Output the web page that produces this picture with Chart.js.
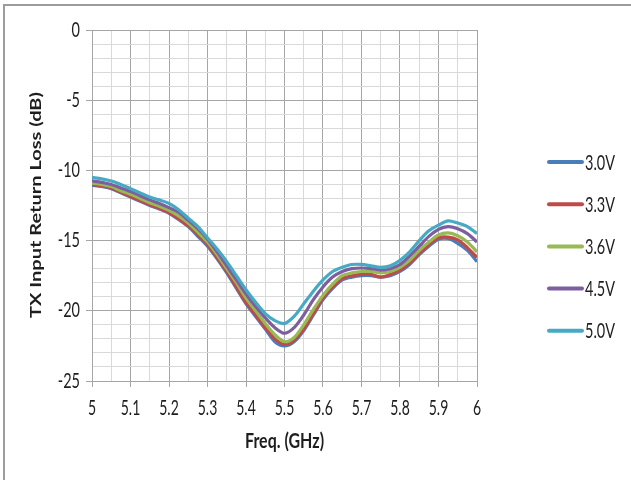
<!DOCTYPE html>
<html>
<head>
<meta charset="utf-8">
<script src="https://cdn.jsdelivr.net/npm/chart.js@4"></script>
<style>
  html, body { margin: 0; padding: 0; background: #fff; }
  canvas { display: block; }
</style>
</head>
<body>
<canvas id="rlChart" width="631" height="480"></canvas>
<script>
// Frequency points (GHz), 25 MHz steps
const freqs = [5.000, 5.025, 5.050, 5.075, 5.100, 5.125, 5.150, 5.175, 5.200, 5.225,
               5.250, 5.275, 5.300, 5.325, 5.350, 5.375, 5.400, 5.425, 5.450, 5.475,
               5.500, 5.525, 5.550, 5.575, 5.600, 5.625, 5.650, 5.675, 5.700, 5.725,
               5.750, 5.775, 5.800, 5.825, 5.850, 5.875, 5.900, 5.925, 5.950, 5.975, 6.000];

// Return loss (dB) per supply voltage
const rl30 = [-11.05, -11.15, -11.3, -11.6, -11.9, -12.2, -12.5, -12.75, -13.05, -13.5,
              -14.0, -14.7, -15.4, -16.3, -17.3, -18.4, -19.5, -20.4, -21.3, -22.2,
              -22.5, -22.2, -21.4, -20.3, -19.2, -18.4, -17.8, -17.6, -17.5, -17.5,
              -17.6, -17.5, -17.2, -16.7, -16.0, -15.4, -14.9, -14.85, -15.2, -15.7, -16.5];
const rl33 = [-11.0, -11.1, -11.25, -11.55, -11.85, -12.15, -12.45, -12.7, -13.0, -13.45,
              -13.95, -14.6, -15.3, -16.2, -17.2, -18.3, -19.4, -20.3, -21.2, -22.0,
              -22.4, -22.1, -21.3, -20.2, -19.1, -18.3, -17.7, -17.5, -17.4, -17.4,
              -17.6, -17.4, -17.1, -16.6, -15.9, -15.3, -14.8, -14.75, -14.95, -15.5, -16.2];
const rl36 = [-10.9, -11.0, -11.15, -11.45, -11.7, -12.0, -12.3, -12.55, -12.85, -13.25,
              -13.75, -14.4, -15.1, -16.0, -17.0, -18.0, -19.1, -20.0, -20.9, -21.7,
              -22.2, -21.9, -21.0, -19.9, -18.9, -18.1, -17.5, -17.3, -17.2, -17.2,
              -17.3, -17.2, -16.9, -16.4, -15.7, -15.1, -14.6, -14.45, -14.65, -15.1, -15.8];
const rl45 = [-10.75, -10.85, -11.0, -11.25, -11.5, -11.8, -12.1, -12.35, -12.65, -13.0,
              -13.55, -14.15, -14.9, -15.8, -16.8, -17.8, -18.8, -19.7, -20.5, -21.2,
              -21.6, -21.2, -20.3, -19.2, -18.3, -17.6, -17.2, -17.0, -16.95, -17.0,
              -17.1, -17.0, -16.7, -16.1, -15.4, -14.7, -14.2, -14.0, -14.15, -14.5, -15.1];
const rl50 = [-10.5, -10.6, -10.75, -11.0, -11.3, -11.6, -11.9, -12.1, -12.35, -12.8,
              -13.4, -14.0, -14.8, -15.6, -16.5, -17.5, -18.5, -19.4, -20.2, -20.7,
              -20.9, -20.4, -19.5, -18.6, -17.8, -17.2, -16.9, -16.7, -16.7, -16.8,
              -16.9, -16.8, -16.4, -15.8, -15.0, -14.3, -13.9, -13.6, -13.75, -14.0, -14.5];

const seriesLabels = ['3.0V', '3.3V', '3.6V', '4.5V', '5.0V'];
const seriesValues = [rl30, rl33, rl36, rl45, rl50];
const seriesColors = ['#4a7ebb', '#be4b48', '#98b954', '#7d5fa0', '#46aac5'];

const xTitle = 'Freq. (GHz)';
const yTitle = 'TX Input Return Loss (dB)';

const FONT = 'Lato, "Open Sans", sans-serif';
const TEXT = '#1e1e1e';
const MAJOR = '#a6a6a6';
const MINOR = '#d9d9d9';

// draw text with taller glyphs, like the source picture
function tallText(ctx, str, x, y, font, align, stretch) {
    ctx.save();
    ctx.font = font;
    ctx.fillStyle = TEXT;
    ctx.textAlign = align;
    ctx.textBaseline = 'middle';
    ctx.translate(x, y);
    ctx.scale(1, stretch);
    ctx.fillText(str, 0, 0);
    ctx.restore();
}

// Outer frame of the picture
const framePlugin = {
    id: 'frame',
    beforeDraw(chart) {
        const ctx = chart.ctx;
        ctx.save();
        ctx.fillStyle = '#fff';
        ctx.fillRect(0, 0, chart.width, chart.height);
        ctx.strokeStyle = '#9c9c9c';
        ctx.lineWidth = 2;
        ctx.strokeRect(4, 5, chart.width + 20, chart.height + 20);
        ctx.restore();
    }
};

// Tick labels and axis titles
const axisText = {
    id: 'axisText',
    afterDraw(chart) {
        const ctx = chart.ctx;
        const xs = chart.scales.x, ys = chart.scales.y;
        xs.ticks.forEach(t => {
            if (!isMajorX(t.value)) return;
            tallText(ctx, String(parseFloat(t.value.toFixed(1))),
                     xs.getPixelForValue(t.value), 408, '14px ' + FONT, 'center', 1.45);
        });
        ys.ticks.forEach(t => {
            if (!isMajorY(t.value)) return;
            tallText(ctx, String(t.value), 80, ys.getPixelForValue(t.value),
                     '14.5px ' + FONT, 'right', 1.4);
        });
        tallText(ctx, xTitle, (xs.left + xs.right) / 2, 441, 'bold 16px ' + FONT, 'center', 1.3);

        ctx.save();
        ctx.font = 'bold 15px ' + FONT;
        const w = ctx.measureText(yTitle).width;
        ctx.translate(36, 205);
        ctx.rotate(-Math.PI / 2);
        ctx.scale(226 / w, 1);
        ctx.fillStyle = TEXT;
        ctx.textAlign = 'center';
        ctx.textBaseline = 'middle';
        ctx.fillText(yTitle, 0, 0);
        ctx.restore();
    }
};

// Legend on the right, Excel style
const sideLegend = {
    id: 'sideLegend',
    afterDraw(chart) {
        const ctx = chart.ctx;
        chart.data.datasets.forEach((ds, i) => {
            const y = 162 + i * 42.2;
            ctx.save();
            ctx.strokeStyle = ds.borderColor;
            ctx.lineWidth = 4;
            ctx.lineCap = 'round';
            ctx.beginPath();
            ctx.moveTo(549, y);
            ctx.lineTo(582, y);
            ctx.stroke();
            ctx.restore();
            tallText(ctx, ds.label, 585, y + 1, '14.5px ' + FONT, 'left', 1.4);
        });
    }
};

const isMajorY = v => Math.abs(v % 5) < 1e-6;
const isMajorX = v => Math.abs(Math.round(v * 100) % 10) === 0;

new Chart(document.getElementById('rlChart').getContext('2d'), {
    type: 'line',
    data: {
        datasets: seriesLabels.map((label, i) => ({
            label: label,
            data: freqs.map((f, k) => ({ x: f, y: seriesValues[i][k] })),
            borderColor: seriesColors[i],
            backgroundColor: seriesColors[i],
            borderWidth: 3.2,
            pointRadius: 0,
            tension: 0.3,
            order: seriesLabels.length - i
        }))
    },
    options: {
        responsive: false,
        animation: false,
        layout: { padding: { left: 0, top: 30, right: 154, bottom: 0 } },
        plugins: {
            legend: { display: false },
            tooltip: { enabled: false }
        },
        scales: {
            x: {
                type: 'linear',
                min: 5,
                max: 6,
                afterFit: scale => { scale.height = 99; },
                ticks: {
                    stepSize: 0.05,
                    autoSkip: false,
                    maxRotation: 0,
                    color: 'rgba(0,0,0,0)'
                },
                grid: {
                    color: c => isMajorX(c.tick.value) ? MAJOR : MINOR,
                    tickColor: c => isMajorX(c.tick.value) ? MAJOR : 'rgba(0,0,0,0)',
                    tickLength: 6
                },
                border: { color: MAJOR }
            },
            y: {
                min: -25,
                max: 0,
                afterFit: scale => { scale.width = 92; },
                ticks: {
                    stepSize: 1,
                    autoSkip: false,
                    color: 'rgba(0,0,0,0)'
                },
                grid: {
                    color: c => isMajorY(c.tick.value) ? MAJOR : MINOR,
                    tickColor: c => isMajorY(c.tick.value) ? MAJOR : 'rgba(0,0,0,0)',
                    tickLength: 6
                },
                border: { color: MAJOR }
            }
        }
    },
    plugins: [framePlugin, axisText, sideLegend]
});
</script>
</body>
</html>
